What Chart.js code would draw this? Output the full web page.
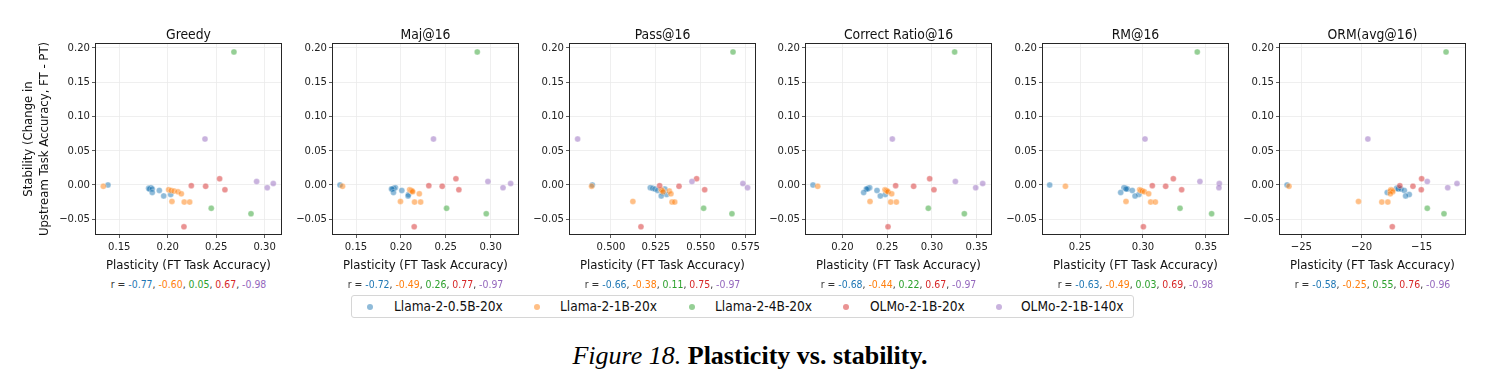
<!DOCTYPE html>
<html>
<head>
<meta charset="utf-8">
<title>Plasticity vs. stability</title>
<script src="https://cdn.jsdelivr.net/npm/chart.js@4.4.1/dist/chart.umd.min.js"></script>
<style>
  html, body { margin: 0; padding: 0; background: #fff; }
  #fig { position: relative; width: 1489px; height: 389px; overflow: hidden;
         font-family: "DejaVu Sans Condensed", "Liberation Sans", sans-serif; color: #222; }
  #fig canvas { position: absolute; }
  .ptitle { position: absolute; top: 26px; width: 240px; text-align: center; font-size: 13.8px;
            line-height: 16px; color: #111; white-space: nowrap; }
  .rline  { position: absolute; top: 278px; width: 240px; text-align: center; font-size: 10.4px;
            line-height: 12px; color: #333; white-space: nowrap; }
  #legend { position: absolute; left: 351px; top: 295px; width: 783px; height: 23px;
            border: 1px solid #d6d6d6; border-radius: 3px; box-sizing: border-box; font-size: 13.6px; }
  #legend .dot { position: absolute; top: 8px; width: 6px; height: 6px; margin-left: -3px; border-radius: 50%; }
  #legend .lab { position: absolute; top: 0; line-height: 21px; white-space: nowrap; color: #111; }
  #caption { position: absolute; left: 450px; width: 600px; top: 341px; text-align: center;
             font-family: "Liberation Serif", "Times New Roman", serif; font-size: 26px; line-height: 30px; color: #000; }
</style>
</head>
<body>
<div id="fig">
  <div id="legend"></div>
  <div id="caption"><i>Figure 18.</i> <b>Plasticity vs. stability.</b></div>
</div>
<script>
  const MODELS = ["Llama-2-0.5B-20x", "Llama-2-1B-20x", "Llama-2-4B-20x", "OLMo-2-1B-20x", "OLMo-2-1B-140x"];
  const COLORS = ["31, 119, 180", "255, 127, 14", "44, 160, 44", "214, 39, 40", "148, 103, 189"];

  const PANEL_TITLES = ["Greedy", "Maj@16", "Pass@16", "Correct Ratio@16", "RM@16", "ORM(avg@16)"];

  // ── stability (y): same checkpoints in every panel ──
  const STAB_LLAMA_05B = [0.000, -0.004, -0.005, -0.006, -0.006, -0.008, -0.011, -0.014, -0.016];
  const STAB_LLAMA_1B  = [-0.002, -0.007, -0.008, -0.009, -0.010, -0.013, -0.024, -0.025, -0.025];
  const STAB_LLAMA_4B  = [0.194, -0.034, -0.042];
  const STAB_OLMO_20X  = [0.009, -0.001, -0.002, -0.007, -0.061];
  const STAB_OLMO_140X = [0.067, 0.005, 0.002, -0.004];
  const STABILITY = [STAB_LLAMA_05B, STAB_LLAMA_1B, STAB_LLAMA_4B, STAB_OLMO_20X, STAB_OLMO_140X];

  // ── plasticity (x) per panel, rows follow MODELS ──
  const X_GREEDY = [
    [0.1383, 0.1827, 0.1803, 0.1810, 0.1840, 0.1913, 0.1840, 0.2030, 0.1958],
    [0.1335, 0.2009, 0.2035, 0.2065, 0.2105, 0.2140, 0.2043, 0.2170, 0.2226],
    [0.2683, 0.2449, 0.2859],
    [0.2535, 0.2243, 0.2391, 0.2590, 0.2167],
    [0.2384, 0.2917, 0.3089, 0.3027],
  ];
  const X_MAJ = [
    [0.1321, 0.1938, 0.1924, 0.1895, 0.1902, 0.2010, 0.1917, 0.2085, 0.2080],
    [0.1349, 0.2098, 0.2114, 0.2125, 0.2131, 0.2205, 0.1995, 0.2152, 0.2220],
    [0.2851, 0.2509, 0.2951],
    [0.2613, 0.2311, 0.2460, 0.2646, 0.2148],
    [0.2363, 0.2970, 0.3223, 0.3138],
  ];
  const X_PASS = [
    [0.4896, 0.5219, 0.5232, 0.5245, 0.5300, 0.5260, 0.5287, 0.5310, 0.5280],
    [0.4892, 0.5280, 0.5285, 0.5325, 0.5290, 0.5334, 0.5122, 0.5340, 0.5355],
    [0.5680, 0.5516, 0.5674],
    [0.5477, 0.5271, 0.5379, 0.5522, 0.5167],
    [0.4814, 0.5451, 0.5735, 0.5761],
  ];
  const X_RATIO = [
    [0.1672, 0.2305, 0.2290, 0.2280, 0.2268, 0.2387, 0.2238, 0.2480, 0.2424],
    [0.1725, 0.2476, 0.2488, 0.2499, 0.2510, 0.2551, 0.2309, 0.2540, 0.2603],
    [0.3254, 0.2960, 0.3362],
    [0.2975, 0.2595, 0.2796, 0.3023, 0.2510],
    [0.2558, 0.3262, 0.3567, 0.3489],
  ];
  const X_RM = [
    [0.2259, 0.2849, 0.2862, 0.2876, 0.2866, 0.2915, 0.2823, 0.2968, 0.2937],
    [0.2384, 0.2974, 0.2984, 0.2995, 0.3011, 0.3045, 0.2865, 0.3061, 0.3098],
    [0.3431, 0.3294, 0.3545],
    [0.3241, 0.3074, 0.3180, 0.3307, 0.3003],
    [0.3016, 0.3452, 0.3606, 0.3603],
  ];
  const X_ORM = [
    [-26.19, -16.89, -17.08, -16.95, -16.72, -16.44, -17.86, -16.03, -16.33],
    [-26.03, -17.55, -17.45, -17.60, -17.40, -17.60, -20.25, -18.31, -17.81],
    [-12.97, -14.53, -13.14],
    [-15.00, -16.81, -15.72, -15.03, -17.44],
    [-19.47, -14.53, -12.06, -12.83],
  ];
  const PANEL_X = [X_GREEDY, X_MAJ, X_PASS, X_RATIO, X_RM, X_ORM];

  const X_MIN = [0.1249, 0.1232, 0.4766, 0.1583, 0.2198, -26.86];
  const X_MAX = [0.3179, 0.3316, 0.5808, 0.3671, 0.3683, -11.31];
  const X_TICKS = [
    [0.15, 0.20, 0.25, 0.30],
    [0.15, 0.20, 0.25, 0.30],
    [0.500, 0.525, 0.550, 0.575],
    [0.20, 0.25, 0.30, 0.35],
    [0.25, 0.30, 0.35],
    [-25, -20, -15],
  ];
  const X_DECIMALS = [2, 2, 3, 2, 2, 0];
  const Y_TICKS = [-0.05, 0.00, 0.05, 0.10, 0.15, 0.20];
  const Y_MIN = -0.073, Y_MAX = 0.207;

  const R_VALUES = [
    ["-0.77", "-0.60", "0.05", "0.67", "-0.98"],
    ["-0.72", "-0.49", "0.26", "0.77", "-0.97"],
    ["-0.66", "-0.38", "0.11", "0.75", "-0.97"],
    ["-0.68", "-0.44", "0.22", "0.67", "-0.97"],
    ["-0.63", "-0.49", "0.03", "0.69", "-0.98"],
    ["-0.58", "-0.25", "0.55", "0.76", "-0.96"],
  ];

  // ── layout (px) ──
  const PLOT_LEFT = [95, 332, 569, 805, 1042, 1279];
  const PLOT_W    = 187;
  const FONT      = '"DejaVu Sans Condensed", "Liberation Sans", sans-serif';
  const LEG_DOT   = [18, 185, 340, 494, 647];
  const LEG_TEXT  = [42, 208, 363, 518, 669];

  const fig = document.getElementById("fig");

  function fmtTick(v, dec) {
    return (v < -1e-9 ? "\u2212" : "") + Math.abs(v).toFixed(dec);
  }

  // matplotlib-style box around the axes
  const frame = {
    id: "frame",
    afterDatasetsDraw(chart) {
      const { ctx, chartArea: a } = chart;
      ctx.save();
      ctx.strokeStyle = "#262626";
      ctx.lineWidth = 1;
      ctx.strokeRect(a.left + 0.5, a.top + 0.5, a.right - a.left - 1, a.bottom - a.top - 1);
      ctx.restore();
    },
  };

  const gridOpts = { color: "#ebebeb", lineWidth: 0.8, tickColor: "#333", tickLength: 3 };
  const tickFont = { family: FONT, size: 11.2 };
  const labelFont = { family: FONT, size: 13 };

  PANEL_TITLES.forEach((title, i) => {
    const yW = i === 0 ? 78 : 46;
    const cv = document.createElement("canvas");
    cv.width = yW + PLOT_W + 14;
    cv.height = 257;
    cv.style.left = (PLOT_LEFT[i] - yW) + "px";
    cv.style.top = "20px";
    fig.appendChild(cv);

    new Chart(cv.getContext("2d"), {
      type: "scatter",
      data: {
        datasets: MODELS.map((m, k) => ({
          label: m,
          data: PANEL_X[i][k].map((x, j) => ({ x, y: STABILITY[k][j] })),
          backgroundColor: `rgba(${COLORS[k]}, 0.5)`,
          borderColor: "rgba(255, 255, 255, 0.5)",
          borderWidth: 0.6,
          pointRadius: 3,
          order: MODELS.length - k,
        })),
      },
      options: {
        responsive: false,
        animation: false,
        events: [],
        layout: { padding: { left: 0, right: 14, top: 23, bottom: 0 } },
        plugins: { legend: { display: false }, tooltip: { enabled: false } },
        scales: {
          x: {
            type: "linear",
            min: X_MIN[i], max: X_MAX[i],
            afterBuildTicks: s => { s.ticks = X_TICKS[i].map(v => ({ value: v })); },
            afterFit: s => { s.height = 42; },
            grid: gridOpts,
            border: { display: false },
            ticks: { color: "#222", font: tickFont, padding: 2, maxRotation: 0, autoSkip: false,
                     callback: v => fmtTick(v, X_DECIMALS[i]) },
            title: { display: true, text: "Plasticity (FT Task Accuracy)", color: "#111", font: labelFont,
                     padding: { top: 4, bottom: 4 } },
          },
          y: {
            type: "linear",
            min: Y_MIN, max: Y_MAX,
            afterBuildTicks: s => { s.ticks = Y_TICKS.map(v => ({ value: v })); },
            afterFit: s => { s.width = yW; },
            grid: gridOpts,
            border: { display: false },
            ticks: { color: "#222", font: tickFont, padding: 2, callback: v => fmtTick(v, 2) },
            title: {
              display: i === 0,
              text: ["Stability (Change in", "Upstream Task Accuracy, FT - PT)"],
              color: "#111", font: labelFont, padding: { top: 4, bottom: 4 },
            },
          },
        },
      },
      plugins: [frame],
    });

    const center = PLOT_LEFT[i] + PLOT_W / 2;
    const t = document.createElement("div");
    t.className = "ptitle";
    t.style.left = (center - 120) + "px";
    t.textContent = title;
    fig.appendChild(t);

    const r = document.createElement("div");
    r.className = "rline";
    r.style.left = (center - 120) + "px";
    r.innerHTML = "r = " + R_VALUES[i]
      .map((v, k) => `<span style="color: rgb(${COLORS[k]})">${v}</span>`)
      .join(", ");
    fig.appendChild(r);
  });

  const legend = document.getElementById("legend");
  MODELS.forEach((m, k) => {
    const d = document.createElement("span");
    d.className = "dot";
    d.style.left = LEG_DOT[k] + "px";
    d.style.background = `rgba(${COLORS[k]}, 0.5)`;
    legend.appendChild(d);
    const l = document.createElement("span");
    l.className = "lab";
    l.style.left = LEG_TEXT[k] + "px";
    l.textContent = m;
    legend.appendChild(l);
  });
</script>
</body>
</html>
